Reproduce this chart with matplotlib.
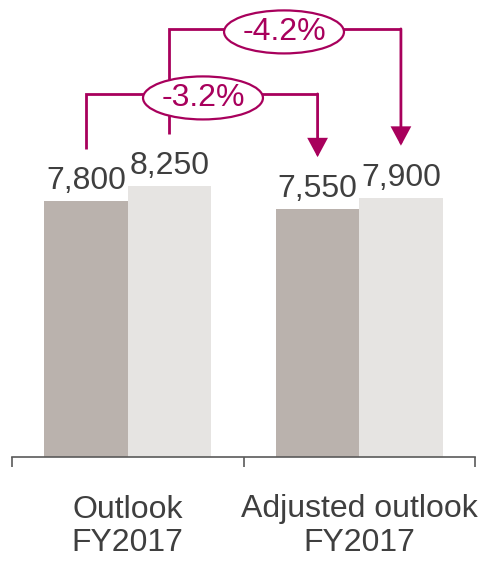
#!/usr/bin/env python3
"""Outlook vs adjusted outlook FY2017, grouped bars with change connectors."""

import matplotlib

matplotlib.use("Agg")
import matplotlib.pyplot as plt
from matplotlib.patches import Ellipse

categories = ["Outlook\nFY2017", "Adjusted outlook\nFY2017"]
series_a = [7800, 7550]
series_b = [8250, 7900]
change_labels = ["-3.2%", "-4.2%"]

DARK = "#bab2ad"
LIGHT = "#e6e4e2"
TEXT = "#3f3f3f"
ACCENT = "#a8005c"
AXIS = "#5a5a5a"

plt.rcParams["font.family"] = ["Liberation Sans", "DejaVu Sans"]

fig = plt.figure(figsize=(4.79, 5.61), dpi=100)
ax = fig.add_axes([12 / 479, 104 / 561, 463 / 479, 457 / 561])

width = 0.36
xs = list(range(len(categories)))
xa = [x - width / 2 for x in xs]
xb = [x + width / 2 for x in xs]
ax.bar(xa, series_a, width=width, color=DARK, zorder=2)
ax.bar(xb, series_b, width=width, color=LIGHT, zorder=2)

for x, v in list(zip(xa, series_a)) + list(zip(xb, series_b)):
    ax.annotate(f"{v:,}", xy=(x, v), xytext=(0, 12), textcoords="offset pixels",
                ha="center", va="baseline", fontsize=23, color=TEXT)

ax.set_xlim(-0.5, 1.5)
ax.set_ylim(0, 13930)

# connectors: start above label of outlook bar, end with arrow above adjusted bar
gap = 1590
levels = [11067, 13049]
ell_pos = [(0.325, 10945), (0.675, 12957)]
pairs = [(xa[0], series_a[0], xa[1], series_a[1]), (xb[0], series_b[0], xb[1], series_b[1])]
for (x0, v0, x1, v1), lvl, (ex, ey), lab in zip(pairs, levels, ell_pos, change_labels):
    ax.plot([x0, x0, x1], [v0 + gap, lvl, lvl], color=ACCENT, lw=2,
            solid_joinstyle="miter", solid_capstyle="butt", zorder=3, clip_on=False)
    ax.annotate("", xy=(x1, v1 + gap), xytext=(x1, lvl),
                arrowprops=dict(arrowstyle="-|>,head_length=0.54,head_width=0.29",
                                mutation_scale=20, color=ACCENT, lw=2,
                                shrinkA=0, shrinkB=0, joinstyle="miter"),
                zorder=3)
    ax.add_patch(Ellipse((ex, ey), 0.518, 1311, facecolor="white", edgecolor=ACCENT,
                         lw=1.6, zorder=4, clip_on=False))
    ax.text(ex, ey, lab, ha="center", va="center", fontsize=23, color=ACCENT, zorder=5)

for side in ["left", "top", "right"]:
    ax.spines[side].set_visible(False)
ax.spines["bottom"].set_color(AXIS)
ax.spines["bottom"].set_linewidth(1.2)
ax.set_yticks([])
ax.set_xticks(xs)
ax.set_xticklabels(categories, fontsize=23, color=TEXT, linespacing=1.15)
ax.tick_params(axis="x", which="major", length=0, pad=27)
ax.set_xticks([-0.5, 0.5, 1.5], minor=True)
ax.tick_params(axis="x", which="minor", length=7.5, width=1.2, color=AXIS, direction="out")

fig.savefig("out.png", dpi=100)
